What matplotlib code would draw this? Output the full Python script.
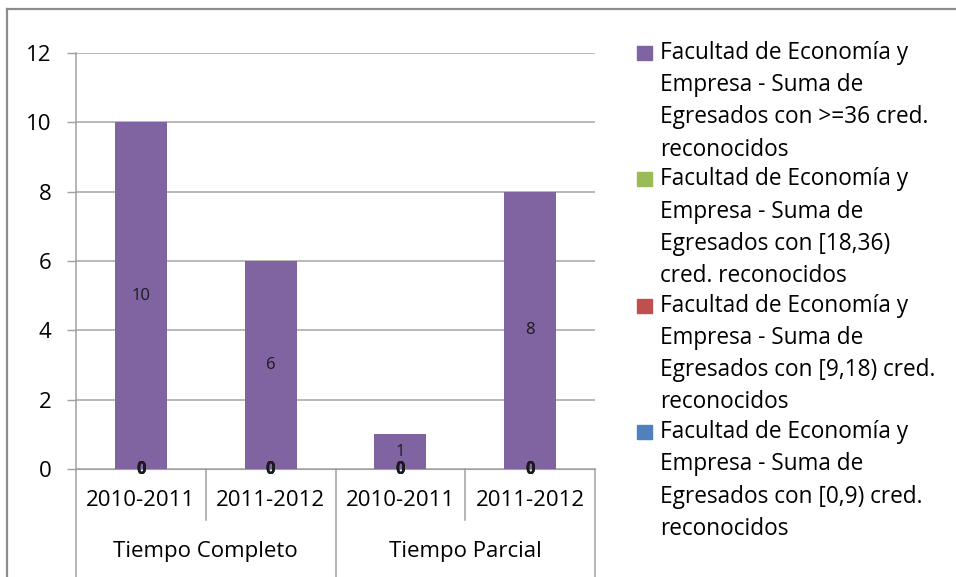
import matplotlib.pyplot as plt
from matplotlib.lines import Line2D
from matplotlib.patches import Rectangle
from matplotlib.transforms import blended_transform_factory

plt.rcParams['font.family'] = ['Open Sans', 'DejaVu Sans']

# categories (two-level axis)
years = ['2010-2011', '2011-2012', '2010-2011', '2011-2012']
groups = ['Tiempo Completo', 'Tiempo Parcial']

# series, bottom to top in the stack
cred_0_9 = [0, 0, 0, 0]
cred_9_18 = [0, 0, 0, 0]
cred_18_36 = [0, 0, 0, 0]
cred_36_plus = [10, 6, 1, 8]

names = [
    'Facultad de Economía y\nEmpresa - Suma de\nEgresados con [0,9) cred.\nreconocidos',
    'Facultad de Economía y\nEmpresa - Suma de\nEgresados con [9,18) cred.\nreconocidos',
    'Facultad de Economía y\nEmpresa - Suma de\nEgresados con [18,36)\ncred. reconocidos',
    'Facultad de Economía y\nEmpresa - Suma de\nEgresados con >=36 cred.\nreconocidos',
]
colors = ['#4F81BD', '#C0504D', '#9BBB59', '#8064A2']

W, H = 956, 577
fig = plt.figure(figsize=(W / 100, H / 100), dpi=100)

# plot area in pixels: left 76, right 595, top 53, bottom 469
ax = fig.add_axes([76 / W, 1 - 469 / H, (595 - 76) / W, (469 - 53) / H])

x = list(range(len(years)))
bottom = [0, 0, 0, 0]
for vals, col in zip([cred_0_9, cred_9_18, cred_18_36, cred_36_plus], colors):
    bars = ax.bar(x, vals, width=0.4, bottom=bottom, color=col, zorder=3)
    # zero-valued series all sit at y=0, stacked labels look heavier there
    weight = 'bold' if max(vals) == 0 else 'normal'
    labels = ax.bar_label(bars, label_type='center', fontsize=12, color='#1a1a1a',
                          fontweight=weight)
    for t in labels:
        t.set_zorder(6)
        t.set_clip_on(False)
    bottom = [b + v for b, v in zip(bottom, vals)]

ax.set_xlim(-0.5, 3.5)
ax.set_ylim(0, 12)
ax.set_yticks(range(0, 13, 2))
ax.tick_params(axis='y', labelsize=16, length=6.5, width=1, color='#A0A0A0', pad=11)
ax.set_xticks([])
ax.yaxis.grid(True, color='#A6A6A6', lw=1.1)
ax.set_axisbelow(True)
for s in ['top', 'right', 'left']:
    ax.spines[s].set_visible(False)
ax.spines['bottom'].set_color('#A0A0A0')

# category axis dividers and labels
tr = blended_transform_factory(ax.transData, ax.transAxes)
grid_c = '#A0A0A0'
ax.add_line(Line2D([-0.5, -0.5], [1, -0.3], transform=tr, color=grid_c, lw=1.1, clip_on=False))
for xv in [1.5, 3.5]:
    ax.add_line(Line2D([xv, xv], [0, -0.3], transform=tr, color=grid_c, lw=1.1, clip_on=False))
for xv in [0.5, 2.5]:
    ax.add_line(Line2D([xv, xv], [0, -0.123], transform=tr, color=grid_c, lw=1.1, clip_on=False))

for xi, lab in zip(x, years):
    ax.text(xi, -31 / 416, lab, transform=tr, ha='center', va='center', fontsize=16)
for gi, lab in enumerate(groups):
    ax.text(gi * 2 + 0.5, -82 / 416, lab, transform=tr, ha='center', va='center', fontsize=16)

# outer chart frame (left and top edges)
fig.add_artist(Line2D([7 / W, 7 / W], [0, 1 - 9 / H], transform=fig.transFigure, color='#8C8C8C', lw=1.6))
fig.add_artist(Line2D([7 / W, 1], [1 - 9 / H, 1 - 9 / H], transform=fig.transFigure, color='#8C8C8C', lw=1.6))

# legend, top series listed first
line_h = 32.2
for i, (name, col) in enumerate(zip(names[::-1], colors[::-1])):
    y0 = 53 + i * 126.4
    fig.add_artist(Rectangle((637 / W, 1 - (y0 + 7) / H), 15 / W, 14 / H,
                             transform=fig.transFigure, color=col))
    for j, line in enumerate(name.split('\n')):
        fig.text(660 / W, 1 - (y0 + j * line_h) / H, line, ha='left', va='center', fontsize=16.3)

fig.savefig('out.png', dpi=100)
